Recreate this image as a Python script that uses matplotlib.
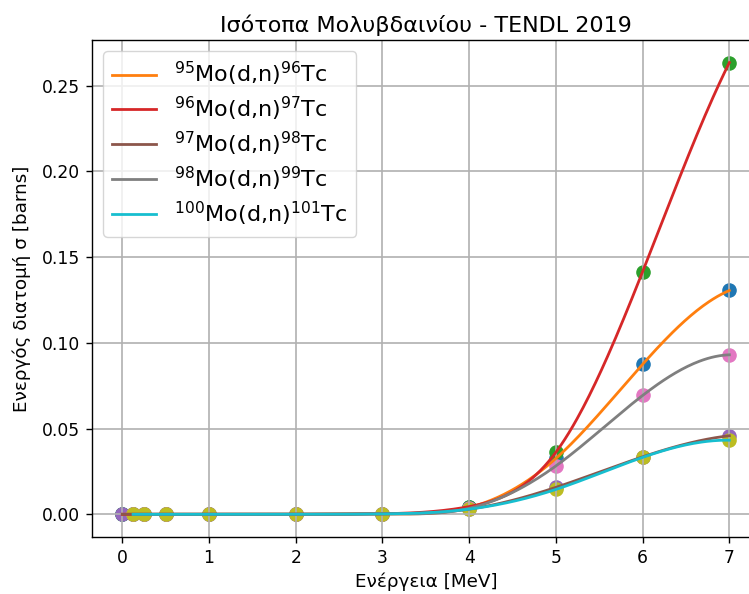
import numpy as np
import matplotlib
matplotlib.use('Agg')
import matplotlib.pyplot as plt

# Ενέργειες (MeV)
E = [0, 0.125, 0.25, 0.5, 1, 2, 3, 4, 5, 6, 7]
E_b = [0.125, 0.25, 0.5, 1, 2, 3, 4, 5, 6, 7]

# Ενεργός διατομή (barns)
mo95 = [0, 0, 0, 0, 0, 0, 0.0003, 0.0040, 0.0326, 0.0875, 0.1305]
mo96 = [0, 0, 0, 0, 0, 0, 0.0003, 0.0045, 0.0362, 0.1415, 0.2634]
mo97 = [0, 0, 0, 0, 0, 0, 0.0002, 0.0030, 0.0157, 0.0335, 0.0458]
mo98 = [0, 0, 0, 0, 0, 0.0003, 0.0035, 0.0282, 0.0693, 0.0930]
mo100 = [0, 0, 0, 0, 0, 0.0002, 0.0030, 0.0145, 0.0332, 0.0432]

labels = [r'$^{95}$Mo(d,n)$^{96}$Tc', r'$^{96}$Mo(d,n)$^{97}$Tc',
          r'$^{97}$Mo(d,n)$^{98}$Tc', r'$^{98}$Mo(d,n)$^{99}$Tc',
          r'$^{100}$Mo(d,n)$^{101}$Tc']
point_colors = ['C0', 'C2', 'C4', 'C6', 'C8']
line_colors = ['C1', 'C3', 'C5', 'C7', 'C9']


def spline(x, y, n=300):
    # cubic spline, not-a-knot
    x = np.asarray(x, float)
    y = np.asarray(y, float)
    m = len(x)
    h = np.diff(x)
    d = np.diff(y) / h
    A = np.zeros((m, m))
    r = np.zeros(m)
    for i in range(1, m - 1):
        A[i, i - 1] = h[i - 1]
        A[i, i] = 2 * (h[i - 1] + h[i])
        A[i, i + 1] = h[i]
        r[i] = 6 * (d[i] - d[i - 1])
    A[0, 0], A[0, 1], A[0, 2] = h[1], -(h[0] + h[1]), h[0]
    A[-1, -3], A[-1, -2], A[-1, -1] = h[-1], -(h[-2] + h[-1]), h[-2]
    M = np.linalg.solve(A, r)
    xs = np.linspace(x[0], x[-1], n)
    i = np.clip(np.searchsorted(x, xs) - 1, 0, m - 2)
    t = xs - x[i]
    b = d[i] - h[i] * (2 * M[i] + M[i + 1]) / 6
    ys = y[i] + b * t + M[i] / 2 * t**2 + (M[i + 1] - M[i]) / (6 * h[i]) * t**3
    return xs, ys


fig = plt.figure(figsize=(7.49, 5.94), dpi=100)
ax = fig.add_axes([0.1228, 0.096, 0.8915, 0.8367])

series = [(E, mo95), (E, mo96), (E, mo97), (E_b, mo98), (E_b, mo100)]
for k, ((x, y), lab) in enumerate(zip(series, labels)):
    ax.scatter(x, y, s=90, color=point_colors[k])
    xs, ys = spline(x, y)
    ax.plot(xs, ys, lw=2, color=line_colors[k], label=lab)

ax.set_title('Ισότοπα Μολυβδαινίου - TENDL 2019', fontsize=16)
ax.set_xlabel('Ενέργεια [MeV]', fontsize=13.2)
ax.set_ylabel('Ενεργός διατομή σ [barns]', fontsize=13.2, labelpad=8)
ax.tick_params(labelsize=12.3, length=4.3, width=1, pad=4.3)
for s in ax.spines.values():
    s.set_linewidth(1)
ax.grid(True, lw=1.2)
ax.legend(loc='upper left', fontsize=16, labelspacing=0.3)

plt.savefig('out.png', dpi=100)
